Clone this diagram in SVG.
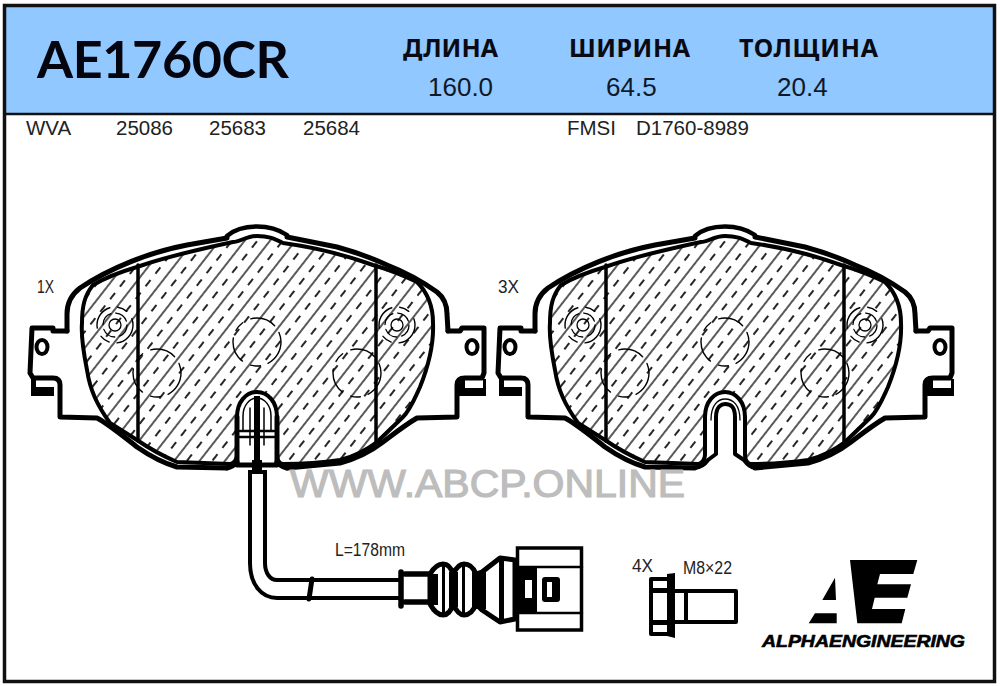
<svg xmlns="http://www.w3.org/2000/svg" xmlns:xlink="http://www.w3.org/1999/xlink" width="1000" height="686" viewBox="0 0 1000 686">
<style>
.ln{fill:none;stroke:#000;stroke-linejoin:round;stroke-linecap:round}
.k{fill:#000;stroke:none}
.t{font-family:"Liberation Sans",Arial,sans-serif;fill:#222}
.h{font-family:"Noto Sans","Open Sans",sans-serif;font-weight:700;font-size:25px;fill:#0a0a14}
.v{font-size:26px;fill:#101828}
.s{font-size:20.500px}
.m{font-size:18px}
.d{stroke-width:1.400;stroke-dasharray:26 8 10 9}
</style>
<defs>
<pattern id="hatch" patternUnits="userSpaceOnUse" width="20" height="16" patternTransform="rotate(38)">
<line x1="1" y1="0" x2="1" y2="16" stroke="#000" stroke-width="1.300"/>
<line x1="11" y1="0" x2="11" y2="16" stroke="#000" stroke-width="1.700" stroke-dasharray="8 8"/>
</pattern>
<g id="pad">
<path d="M93 285C103 279 120 272 137 267C165 257 205 248 233 242C240 242 246 236 257 236C268 236 273 238 283 243C305 246 337 252 373 265C390 270 405 276 417 282C427 292 433 305 433 323C434 345 428 367 420 387C414 400 410 410 403 417L377 442C365 451 352 457 340 460C320 463 300 464 283 464C279 464 277 459 277 455L277 417C277 402 268 392 257 392C246 392 237 402 237 417L237 455C237 459 234 464 230 464L177 462C163 456 150 449 137 440L110 423C97 405 90 390 87 370C83 350 81 335 82 323C82 305 85 295 93 285Z" fill="url(#hatch)" stroke="#000" stroke-width="4" stroke-linejoin="round"/>
<path class="ln" stroke-width="5" d="M67 331L67 314Q67 298 80 288C110 268 150 252 187 245L227 238"/>
<path class="ln" stroke-width="4.500" d="M227 236C235 229 247 226.500 257 226.500C268 226.500 278 229 287 235"/>
<path class="ln" stroke-width="5" d="M287 237L337 247C355 252 372 258 387 265C405 272 423 282 437 292Q447 300 447 314L448 331"/>
<path class="ln" stroke-width="5" d="M67 331L53 331L53 328L32 328L30 373L33 378L53 378Q60 378 60 385L60 417L97 418C110 425 124 437 137 447C150 456 163 463 177 467L227 468"/>
<path class="ln" stroke-width="5" d="M448 331L460 331L462 328L484 328L484 373L482 378L465 378Q457 378 457 385L457 417L417 418C405 425 395 433 383 442C370 452 355 459 340 463L287 468"/>
<path class="k" d="M31 379H36V387H54V396H31ZM459 380H465V388H483V379H486V396H459Z"/>
<ellipse class="ln" stroke-width="4" cx="42" cy="347" rx="5.500" ry="7"/>
<ellipse class="ln" stroke-width="4" cx="472" cy="347" rx="5.500" ry="7"/>
<path class="ln" stroke-width="3.500" d="M138 265V441M376 265V441"/>
<g class="ln d">
<circle cx="115" cy="325" r="18"/><circle cx="397" cy="325" r="18"/>
<circle cx="257" cy="342" r="24"/><circle cx="157" cy="373" r="24"/><circle cx="357" cy="373" r="24"/>
</g>
<g class="ln" stroke-width="1.300">
<circle cx="115" cy="325" r="6"/><circle cx="115" cy="325" r="12" stroke-dasharray="14 5"/>
<circle cx="397" cy="325" r="6"/><circle cx="397" cy="325" r="12" stroke-dasharray="14 5"/>
</g>
</g>
</defs>
<rect width="1000" height="686" fill="#fff"/>
<g id="frame">
<rect x="5" y="6" width="989" height="108" fill="#90c8ff"/>
<rect x="4.500" y="5.500" width="990" height="676" fill="none" stroke="#111" stroke-width="3.500"/>
<line x1="5" y1="114" x2="994" y2="114" stroke="#111" stroke-width="2.500"/>
</g>
<g id="header">
<text x="37" y="78" font-family="Lato,'Noto Sans',sans-serif" font-weight="700" font-size="52" fill="#05050f" textLength="252" lengthAdjust="spacing">AE1760CR</text>
<text class="h" x="403" y="57" textLength="95">ДЛИНА</text>
<text class="h" x="569" y="57" textLength="121">ШИРИНА</text>
<text class="h" x="739" y="57" textLength="139">ТОЛЩИНА</text>
<text class="t v" x="428" y="96">160.0</text>
<text class="t v" x="606" y="96">64.5</text>
<text class="t v" x="777" y="96">20.4</text>
</g>
<g id="crossrefs">
<text class="t s" x="26" y="135">WVA</text>
<text class="t s" x="116" y="135">25086</text>
<text class="t s" x="209" y="135">25683</text>
<text class="t s" x="303" y="135">25684</text>
<text class="t s" x="567" y="135">FMSI</text>
<text class="t s" x="636" y="135">D1760-8989</text>
</g>
<g id="pad-1x">
<use xlink:href="#pad" href="#pad"/>
<path class="ln" stroke-width="5" d="M227 468Q233 467 237 462M287 468Q281 467 277 462"/>
<path class="ln" stroke-width="5" d="M237 417V465H277V417"/>
<path class="ln" stroke-width="1.500" d="M243 430V416C243 405 250 398 257 398C264 398 271 405 271 416V430M250 408V445M264 408V445"/>
<path class="ln" stroke-width="2.500" d="M240 431H274M240 437H274"/>
<path class="k" d="M254 396H260V460H262V470H252V460H254ZM248 470H267V474H248Z"/>
<text class="t m" x="37" y="293" textLength="17" lengthAdjust="spacingAndGlyphs">1X</text>
</g>
<g id="pad-3x">
<use xlink:href="#pad" href="#pad" x="468"/>
<path class="ln" stroke-width="4" d="M695 468Q703 467 708 460L716 454V417C716 406 722 404 725 404C730 404 735 406 735 417V454L744 460Q749 467 755 468"/>
<path class="ln" stroke-width="1.300" d="M711 420C711 405 718 399 725 399C733 399 740 405 740 420"/>
<text class="t m" x="498" y="293" textLength="21" lengthAdjust="spacingAndGlyphs">3X</text>
</g>
<g id="connectors">
<g id="sensor-wire">
<path class="ln" stroke-width="4" d="M250 474V563C250 585 262 598 277 598H398M265 474V563C265 573 270 580 277 580H398"/>
<path class="ln" stroke-width="5" d="M312 579L309 599"/>
</g>
</g>
<g id="sensor-plug">
<path class="ln" stroke-width="5.500" d="M401 572V606M405 574H430M405 602H430"/>
<path class="ln" stroke-width="5" d="M430 574Q436 564 443 564Q450 564 453 574Q458 564 464 564Q472 564 476 574L482 572L500 558L515 560V619L500 622L482 610L476 604Q472 615 464 615Q458 615 453 604Q450 615 443 615Q436 615 430 604V574"/>
<path class="k" d="M428 574H438V605H428ZM449 572H458V607H449ZM472 572H486V609H472ZM499 560H504V621H499ZM442 566H445V613H442ZM462 566H465V613H462Z"/>
<rect x="517.500" y="548" width="64" height="82" fill="none" stroke="#000" stroke-width="3.500"/>
<path class="ln" stroke-width="2.500" d="M517 567H582M517 613H582"/>
<rect x="517" y="567" width="20" height="46" class="k"/>
<rect x="525" y="580" width="7" height="18" fill="#fff"/>
<rect x="542" y="577" width="18" height="25" rx="3" class="k"/>
<rect x="547" y="582" width="5" height="15" fill="#fff"/>
<text class="t m" x="335" y="556" textLength="70" lengthAdjust="spacingAndGlyphs" fill="#1a1a3a">L=178mm</text>
</g>
<g id="bolt">
<path class="ln" stroke-width="4" d="M670 579H651V634H670"/>
<path class="k" d="M667 574L675 573V638L667 636ZM650 588H668V593H650ZM650 620H668V625H650Z"/>
<path class="ln" stroke-width="4" d="M675 591H736V622H675M686 591V622"/>
<text class="t m" x="632" y="572" textLength="21" lengthAdjust="spacingAndGlyphs">4X</text>
<text class="t m" x="683" y="574" textLength="49" lengthAdjust="spacingAndGlyphs">M8×22</text>
</g>
<g id="logo">
<path class="k" d="M850 560H917.300L913.300 574H880L877.300 584.300H911L907.300 597.700H874.700L872 609H905.300L901.700 623.300H857.300Z"/>
<path class="k" d="M835 577.700L836 600H822.300ZM815 613.300H836.700V623.300H808.700Z"/>
<text x="762" y="647" font-family="'Liberation Sans',Arial,sans-serif" font-weight="700" font-style="italic" font-size="17" fill="#000" stroke="#000" stroke-width=".6" textLength="203" lengthAdjust="spacingAndGlyphs">ALPHAENGINEERING</text>
</g>
<text id="watermark" x="290" y="497" font-family="'Liberation Sans',Arial,sans-serif" font-size="39" fill="#bdbdbd" stroke="#bdbdbd" stroke-width="1.200" textLength="395" lengthAdjust="spacingAndGlyphs">WWW.ABCP.ONLINE</text>
</svg>
